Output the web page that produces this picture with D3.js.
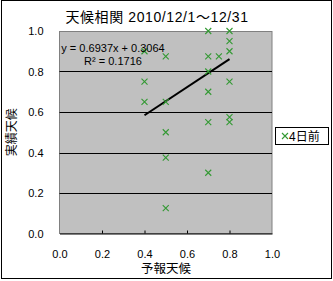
<!DOCTYPE html>
<html>
<head>
<meta charset="utf-8">
<script src="https://cdn.jsdelivr.net/npm/d3@7"></script>
<style>
  body { margin: 0; background: #fff; }
  text { font-family: 'Liberation Sans', 'Noto Sans CJK JP', sans-serif; fill: #000; }
</style>
</head>
<body>
<svg id="canvas"></svg>
<script>
// 予報天候 (x) と 実績天候 (y)
const forecast = [0.7, 0.8, 0.8, 0.8, 0.4, 0.5, 0.7, 0.75, 0.7, 0.4, 0.8, 0.7, 0.4, 0.5, 0.8, 0.7, 0.8, 0.5, 0.5, 0.7, 0.5];
const actual   = [1.0, 1.0, 0.95, 0.9, 0.9, 0.875, 0.875, 0.875, 0.8, 0.75, 0.75, 0.7, 0.65, 0.65, 0.575, 0.55, 0.55, 0.5, 0.375, 0.3, 0.125];

const tickValues = [0, 0.2, 0.4, 0.6, 0.8, 1.0];
const gridValues = [0.2, 0.4, 0.6, 0.8];

const slope = 0.6937;
const intercept = 0.3064;
const rSquared = 0.1716;
const trendRange = [0.4, 0.8];

const titleText = '天候相関 2010/12/1～12/31';
const xLabel = '予報天候';
const yLabel = '実績天候';
const seriesName = '4日前';

const width = 333;
const height = 281;

const plotLeft = 59.5, plotRight = 272, plotTop = 31, plotBottom = 233.5;
const green = '#339933';

let canvas = d3.select('#canvas')
    .attr('width', width)
    .attr('height', height);

// outer border
canvas.append('rect')
    .attr('x', 1.5).attr('y', 0.5)
    .attr('width', 330).attr('height', 278)
    .attr('fill', '#fff').attr('stroke', '#000');

const xScale = d3.scaleLinear().domain([0, 1]).range([plotLeft, plotRight]);
const yScale = d3.scaleLinear().domain([0, 1]).range([plotBottom, plotTop]);

// plot area
canvas.append('rect')
    .attr('x', plotLeft).attr('y', plotTop + 0.5)
    .attr('width', plotRight - plotLeft).attr('height', plotBottom - plotTop - 0.5)
    .attr('fill', '#c0c0c0').attr('stroke', '#808080');

canvas.append('g')
    .selectAll('line')
    .data(gridValues)
    .enter()
    .append('line')
    .attr('x1', plotLeft).attr('x2', plotRight)
    .attr('y1', d => Math.round(yScale(d)) + 0.5)
    .attr('y2', d => Math.round(yScale(d)) + 0.5)
    .attr('stroke', '#000');

const xAxis = d3.axisBottom(xScale)
    .tickValues(tickValues)
    .tickFormat(d3.format('.1f'))
    .tickSizeInner(-3)
    .tickSizeOuter(0)
    .tickPadding(17);

const gx = canvas.append('g')
    .attr('transform', 'translate(0,' + plotBottom + ')')
    .call(xAxis);
gx.selectAll('text').style('font-size', '11px');
gx.selectAll('.tick').filter(d => d === 0 || d === 1).select('line').remove();

const yAxis = d3.axisLeft(yScale)
    .tickValues(tickValues)
    .tickFormat(d3.format('.1f'))
    .tickSize(0)
    .tickPadding(16);

const gy = canvas.append('g')
    .attr('transform', 'translate(' + plotLeft + ',0)')
    .call(yAxis);
gy.select('.domain').remove();
gy.selectAll('text').style('font-size', '11px');

// trend line
canvas.append('line')
    .attr('x1', xScale(trendRange[0]))
    .attr('y1', yScale(slope * trendRange[0] + intercept))
    .attr('x2', xScale(trendRange[1]))
    .attr('y2', yScale(slope * trendRange[1] + intercept))
    .attr('stroke', '#000')
    .attr('stroke-width', 2);

// markers
const cross = (sel, s) => {
    sel.append('path')
        .attr('d', 'M' + (-s) + ',' + (-s) + 'L' + s + ',' + s + 'M' + (-s) + ',' + s + 'L' + s + ',' + (-s))
        .attr('stroke', green)
        .attr('stroke-width', 1.1)
        .attr('fill', 'none');
};

canvas.append('g')
    .selectAll('g')
    .data(forecast.map((f, i) => [f, actual[i]]))
    .enter()
    .append('g')
    .attr('transform', d => 'translate(' + xScale(d[0]) + ',' + yScale(d[1]) + ')')
    .call(cross, 3);

// equation
canvas.append('text')
    .attr('x', 113).attr('y', 52)
    .attr('text-anchor', 'middle')
    .style('font-size', '11px')
    .text('y = ' + slope + 'x + ' + intercept);

canvas.append('text')
    .attr('x', 113).attr('y', 65)
    .attr('text-anchor', 'middle')
    .style('font-size', '11px')
    .text('R² = ' + rSquared);

// title
canvas.append('text')
    .attr('x', 157).attr('y', 22)
    .attr('text-anchor', 'middle')
    .style('font-size', '14px')
    .style('letter-spacing', '0.6px')
    .text(titleText);

canvas.append('text')
    .attr('x', 166).attr('y', 273)
    .attr('text-anchor', 'middle')
    .style('font-size', '12.5px')
    .text(xLabel);

canvas.append('text')
    .attr('transform', 'translate(16,' + ((plotTop + plotBottom) / 2) + ') rotate(-90)')
    .attr('text-anchor', 'middle')
    .style('font-size', '12px')
    .text(yLabel);

// legend
const legend = canvas.append('g');
legend.append('rect')
    .attr('x', 275.5).attr('y', 127.5)
    .attr('width', 53).attr('height', 17)
    .attr('fill', '#fff').attr('stroke', '#000');
legend.append('g')
    .attr('transform', 'translate(285,136)')
    .call(cross, 3);
legend.append('text')
    .attr('x', 289).attr('y', 140.5)
    .style('font-size', '12px')
    .text(seriesName);
</script>
</body>
</html>
